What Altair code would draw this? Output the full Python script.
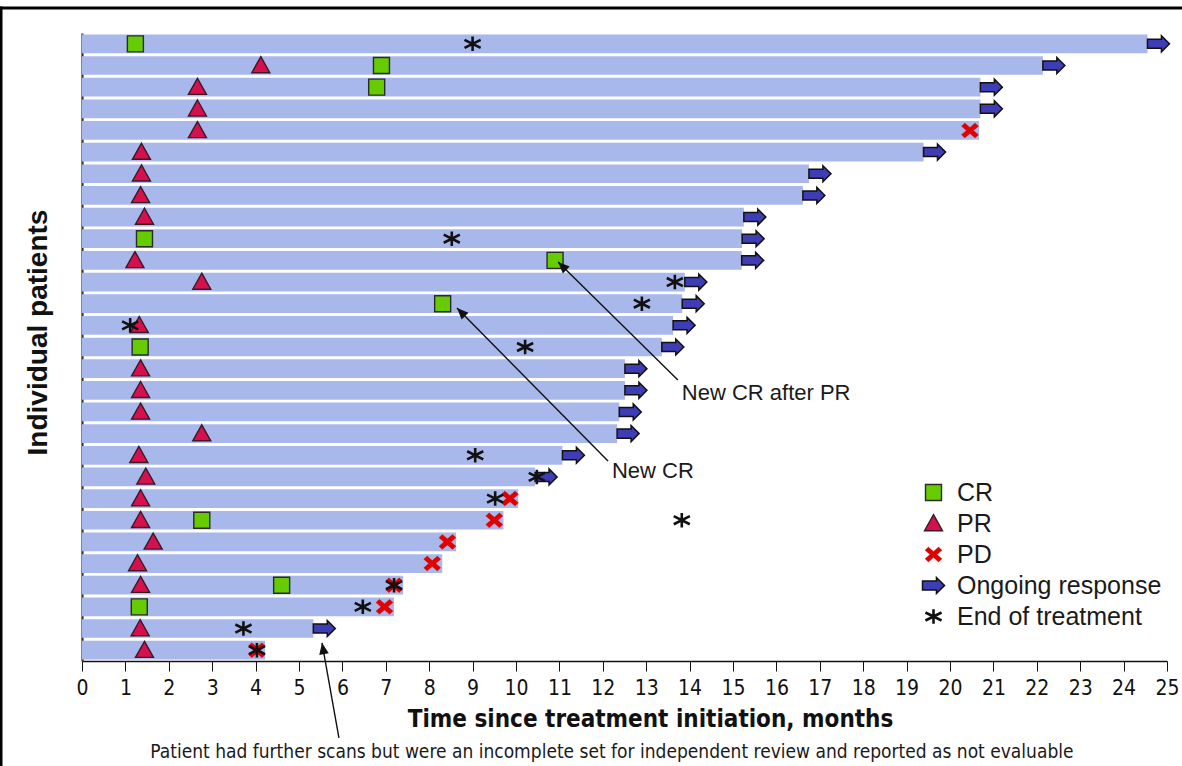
import math
import altair as alt
import pandas as pd

# ---------------- data ----------------
patients = list(range(1, 30))
end_months = [24.55, 22.14, 20.70, 20.70, 20.67, 19.39, 16.75, 16.61, 15.25, 15.21,
              15.20, 13.89, 13.83, 13.62, 13.36, 12.51, 12.51, 12.38, 12.33, 11.07,
              10.44, 10.05, 9.71, 8.62, 8.30, 7.40, 7.19, 5.33, 4.22]
ongoing = [1, 1, 1, 1, 0, 1, 1, 1, 1, 1, 1, 1, 1, 1, 1, 1, 1, 1, 1, 1,
           1, 0, 0, 0, 0, 0, 0, 1, 0]

cr_patient = [1, 2, 3, 10, 11, 13, 15, 23, 26, 27]
cr_month = [1.23, 6.90, 6.79, 1.44, 10.90, 8.31, 1.34, 2.76, 4.60, 1.32]
pr_patient = [2, 3, 4, 5, 6, 7, 8, 9, 11, 12, 14, 16, 17, 18, 19, 20, 21, 22, 23, 24, 25, 26, 28, 29]
pr_month = [4.12, 2.66, 2.66, 2.66, 1.37, 1.37, 1.35, 1.44, 1.22, 2.76, 1.32, 1.35, 1.35, 1.35,
            2.76, 1.31, 1.47, 1.35, 1.35, 1.64, 1.28, 1.35, 1.34, 1.44]
pd_patient = [5, 22, 23, 24, 25, 26, 27, 29]
pd_month = [20.46, 9.86, 9.50, 8.42, 8.07, 7.19, 6.97, 4.03]
eot_patient = [1, 10, 12, 13, 14, 15, 20, 21, 22, 23, 26, 27, 28, 29]
eot_month = [9.00, 8.52, 13.66, 12.90, 1.11, 10.21, 9.06, 10.48, 9.52, 13.82, 7.19, 6.47, 3.72, 4.03]

x_ticks = list(range(0, 26))

types = ["CR", "PR", "PD", "Ongoing response", "End of treatment"]

# annotations (tail -> tip, in months / patient rows)
ann_x1 = [13.73, 12.12, 5.92]
ann_y1 = [16.52, 20.26, 33.05]
ann_x2 = [10.97, 8.64, 5.53]
ann_y2 = [11.07, 13.20, 28.66]
lab_text = ["New CR after PR", "New CR"]
lab_x = [13.82, 12.21]
lab_y = [17.12, 20.72]
note_text = ["Patient had further scans but were an incomplete set for independent review and reported as not evaluable"]
note_x = [12.21]
note_y = [33.72]

# ---------------- styles ----------------
W, H = 1085, 628
PX_X = W / 25.0
PX_Y = H / 29.0

BAR = "#A8B8EA"
SANS = "Liberation Sans, Arial, sans-serif"
NARROW = "Liberation Sans Narrow, DejaVu Sans Condensed, Arial Narrow, sans-serif"

ARROW_PATH = "M -1 -0.41 L 0.27 -0.41 L 0.27 -0.73 L 1 0 L 0.27 0.73 L 0.27 0.41 L -1 0.41 Z"
TRI_PATH = "M 0 -0.98 L 1 0.8 L -1 0.8 Z"
X_PATH = ("M -1 -0.5 L -0.6 -0.88 L 0 -0.36 L 0.6 -0.88 L 1 -0.5 L 0.42 0 "
          "L 1 0.5 L 0.6 0.88 L 0 0.36 L -0.6 0.88 L -1 0.5 L -0.42 0 Z")
AST_PATH = "M 0 -0.9 L 0 0.9 M -1 -0.5 L 1 0.5 M -1 0.5 L 1 -0.5"
HEAD_PATH = "M 0 0 L 0.42 1 L -0.42 1 Z"

shape_rng = ["square", TRI_PATH, X_PATH, ARROW_PATH, AST_PATH]
fill_rng = ["#66CC00", "#D6104F", "#E00000", "#3F3DB5", "transparent"]
stroke_rng = ["#2a2a2a", "#3a1a22", "#E00000", "#111111", "#111111"]
size_rng = [256, 324, 290, 484, 260]
sw_rng = [1.4, 1.4, 0.3, 1.5, 2.6]

leg = alt.Legend(title=None, orient="none", legendX=839, legendY=447,
                 labelFont=SANS, labelFontSize=25, labelColor="#1a1a1a",
                 rowPadding=5, labelOffset=11, symbolLimit=0, labelLimit=400)


def enc_channels():
    return dict(
        shape=alt.Shape("type:N", scale=alt.Scale(domain=types, range=shape_rng), legend=leg),
        fill=alt.Fill("type:N", scale=alt.Scale(domain=types, range=fill_rng), legend=leg),
        stroke=alt.Stroke("type:N", scale=alt.Scale(domain=types, range=stroke_rng), legend=leg),
        size=alt.Size("type:N", scale=alt.Scale(type="ordinal", domain=types, range=size_rng),
                      legend=leg),
        strokeWidth=alt.StrokeWidth("type:N",
                                    scale=alt.Scale(type="ordinal", domain=types, range=sw_rng),
                                    legend=leg),
    )


bars_df = pd.DataFrame({"patient": patients, "start": [0.0] * len(patients), "end": end_months,
                        "ongoing": ongoing})
arrow_df = bars_df[bars_df["ongoing"] == 1].copy()
arrow_df["type"] = "Ongoing response"

events = []
for p, m in zip(cr_patient, cr_month):
    events.append({"patient": p, "month": m, "type": "CR"})
for p, m in zip(pr_patient, pr_month):
    events.append({"patient": p, "month": m, "type": "PR"})
for p, m in zip(pd_patient, pd_month):
    events.append({"patient": p, "month": m, "type": "PD"})
for p, m in zip(eot_patient, eot_month):
    events.append({"patient": p, "month": m, "type": "End of treatment"})
events_df = pd.DataFrame(events)

ann_df = pd.DataFrame({"x1": ann_x1, "y1": ann_y1, "x2": ann_x2, "y2": ann_y2})
ann_df["ang"] = [
    (math.degrees(math.atan2((b - a) * PX_X, -(d - c) * PX_Y)) + 360) % 360
    for a, b, c, d in zip(ann_x1, ann_x2, ann_y1, ann_y2)
]
lab_df = pd.DataFrame({"x": lab_x, "y": lab_y, "t": lab_text})
note_df = pd.DataFrame({"x": note_x, "y": note_y, "t": note_text})

xscale = alt.Scale(domain=[0, 25], nice=False, zero=False, padding=0)
yscale = alt.Scale(domain=[0.5, 29.5], nice=False, zero=False, reverse=True, padding=0)

x_axis = alt.Axis(values=x_ticks, title="Time since treatment initiation, months",
                  titleFont=NARROW, titleFontSize=24, titleFontWeight="bold", titleColor="#111",
                  titlePadding=9, titleX=568, labelFont=NARROW, labelFontSize=21,
                  labelColor="#111", labelPadding=6, tickSize=10, tickColor="#111", tickWidth=1,
                  domainColor="#111", domainWidth=1.5, grid=False, labelFlush=False)
y_axis = alt.Axis(title="Individual patients", labels=False, ticks=False, grid=False,
                  domainColor="#333", domainWidth=2.2,
                  titleFont=SANS, titleFontSize=28, titleFontWeight="bold", titleColor="#111",
                  titleX=-44, titleY=299, titleAngle=270, titleAlign="center",
                  titleBaseline="middle")

bars = alt.Chart(bars_df).mark_bar(size=18.7, orient="horizontal", color=BAR).encode(
    x=alt.X("start:Q", scale=xscale, axis=x_axis),
    x2="end:Q",
    y=alt.Y("patient:Q", scale=yscale, axis=y_axis),
)

arrows = alt.Chart(arrow_df).mark_point(filled=True, xOffset=11, opacity=1).encode(
    x=alt.X("end:Q", scale=xscale),
    y=alt.Y("patient:Q", scale=yscale),
    **enc_channels(),
)

points = alt.Chart(events_df).mark_point(filled=True, opacity=1).encode(
    x=alt.X("month:Q", scale=xscale),
    y=alt.Y("patient:Q", scale=yscale),
    **enc_channels(),
)

ann_lines = alt.Chart(ann_df).mark_rule(color="#111", strokeWidth=1.4).encode(
    x=alt.X("x1:Q", scale=xscale), y=alt.Y("y1:Q", scale=yscale),
    x2="x2:Q", y2="y2:Q",
)
ann_heads = alt.Chart(ann_df).mark_point(shape=HEAD_PATH, filled=True, color="#111",
                                         size=529, opacity=1).encode(
    x=alt.X("x2:Q", scale=xscale), y=alt.Y("y2:Q", scale=yscale),
    angle=alt.Angle("ang:Q", scale=None),
)
labels = alt.Chart(lab_df).mark_text(align="left", baseline="middle", font=SANS,
                                     fontSize=22, color="#1a1a1a").encode(
    x=alt.X("x:Q", scale=xscale), y=alt.Y("y:Q", scale=yscale), text="t:N",
)
note = alt.Chart(note_df).mark_text(align="center", baseline="middle", font=NARROW,
                                    fontSize=19, color="#1a1a1a").encode(
    x=alt.X("x:Q", scale=xscale), y=alt.Y("y:Q", scale=yscale), text="t:N",
)

frame_data = alt.Data(values=[{"k": 1}])
frame_top = alt.Chart(frame_data).mark_rule(color="black", strokeWidth=3).encode(
    x=alt.value(-82), x2=alt.value(1100), y=alt.value(-25), y2=alt.value(-25))
frame_left = alt.Chart(frame_data).mark_rule(color="black", strokeWidth=3).encode(
    x=alt.value(-81), x2=alt.value(-81), y=alt.value(-26.5), y2=alt.value(733))

chart = alt.layer(
    bars, arrows, points, ann_lines, ann_heads, labels, note, frame_top, frame_left
).properties(
    width=W, height=H,
    autosize=alt.AutoSizeParams(type="none"),
    padding={"left": 82, "top": 33, "right": 15, "bottom": 105},
    background="white",
).configure_view(strokeWidth=0)

chart.save("out.html", embed_options={"renderer": "svg", "actions": False})
